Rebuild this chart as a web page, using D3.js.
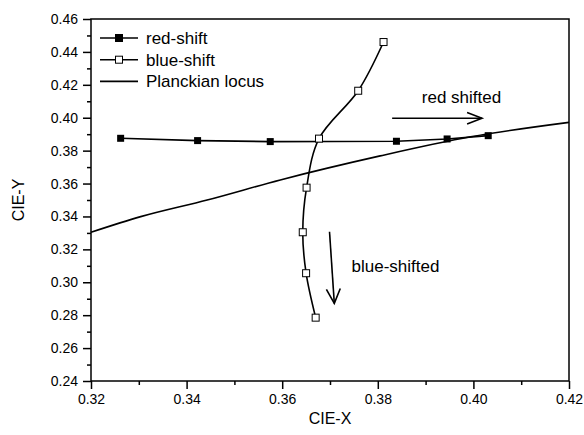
<!DOCTYPE html>
<html>
<head>
<meta charset="utf-8">
<script src="https://cdn.jsdelivr.net/npm/d3@7"></script>
<style>
  body { margin: 0; background: #fff; }
  text { font-family: "Liberation Sans", Arial, sans-serif; fill: #000; }
</style>
</head>
<body>
<div id="chart"></div>
<script>
// data
var redX = [0.3262, 0.3423, 0.3575, 0.3839, 0.3945, 0.4031];
var redY = [0.3875, 0.3861, 0.3855, 0.3857, 0.3871, 0.3891];
var blueX = [0.3812, 0.3759, 0.3677, 0.3651, 0.3643, 0.3650, 0.3670];
var blueY = [0.4460, 0.4164, 0.3873, 0.3575, 0.3304, 0.3055, 0.2785];
var planckX = [0.3200, 0.3304, 0.3443, 0.3596, 0.3805, 0.3994, 0.4200];
var planckY = [0.3304, 0.3399, 0.3500, 0.3622, 0.3768, 0.3884, 0.3972];
var xTicks = [0.32, 0.34, 0.36, 0.38, 0.40, 0.42];
var yTicks = [0.24, 0.26, 0.28, 0.30, 0.32, 0.34, 0.36, 0.38, 0.40, 0.42, 0.44, 0.46];
var legendNames = ["red-shift", "blue-shift", "Planckian locus"];

var width = 584, height = 435;
var margin = {top: 19, right: 15, bottom: 54, left: 91};
var w = width - margin.left - margin.right;
var h = height - margin.top - margin.bottom;

var svg = d3.select("#chart").append("svg")
    .attr("width", width)
    .attr("height", height)
  .append("g")
    .attr("transform", "translate(" + margin.left + "," + margin.top + ")");

var x = d3.scaleLinear().domain([0.32, 0.42]).range([0, w]);
var y = d3.scaleLinear().domain([0.24, 0.46]).range([h, 0]);

function zip(a, b) { return a.map(function(v, i) { return [v, b[i]]; }); }
var red = zip(redX, redY), blue = zip(blueX, blueY), planck = zip(planckX, planckY);

// minor ticks
var xMinor = d3.range(0.33, 0.42, 0.02);
var yMinor = d3.range(0.25, 0.46, 0.02);

var xAxis = d3.axisBottom(x).tickValues(xTicks).tickFormat(d3.format(".2f")).tickSize(8).tickPadding(5);
var yAxis = d3.axisLeft(y).tickValues(yTicks).tickFormat(d3.format(".2f")).tickSize(8).tickPadding(5);

svg.append("g")
    .attr("transform", "translate(0," + h + ")")
    .call(d3.axisBottom(x).tickValues(xMinor).tickSize(4).tickFormat(""))
    .call(function(g){ g.select(".domain").remove(); })
    .selectAll("line").attr("stroke-width", 1.5);
svg.append("g")
    .call(d3.axisLeft(y).tickValues(yMinor).tickSize(4).tickFormat(""))
    .call(function(g){ g.select(".domain").remove(); })
    .selectAll("line").attr("stroke-width", 1.5);

var gx = svg.append("g")
    .attr("transform", "translate(0," + h + ")")
    .style("font-size", "14px")
    .call(xAxis);
gx.select(".domain").remove();
gx.selectAll(".tick line").attr("stroke-width", 1.5);
gx.selectAll(".tick text").attr("font-family", "Liberation Sans, Arial, sans-serif");

var gy = svg.append("g")
    .style("font-size", "14px")
    .call(yAxis);
gy.select(".domain").remove();
gy.selectAll(".tick line").attr("stroke-width", 1.5);
gy.selectAll(".tick text").attr("font-family", "Liberation Sans, Arial, sans-serif");

// frame
svg.append("rect")
    .attr("width", w).attr("height", h)
    .attr("fill", "none").attr("stroke", "#000").attr("stroke-width", 1.5);

// axis titles
svg.append("text")
    .attr("x", w / 2).attr("y", h + 43)
    .attr("text-anchor", "middle")
    .style("font-size", "16px")
    .text("CIE-X");
svg.append("text")
    .attr("transform", "translate(" + (-67) + "," + (h / 2) + ") rotate(-90)")
    .attr("text-anchor", "middle")
    .style("font-size", "16px")
    .text("CIE-Y");

var line = d3.line().x(function(d){ return x(d[0]); }).y(function(d){ return y(d[1]); });

svg.append("path").datum(planck)
    .attr("fill", "none").attr("stroke", "#000").attr("stroke-width", 1.6)
    .attr("d", line.curve(d3.curveMonotoneX));

svg.append("path").datum(red)
    .attr("fill", "none").attr("stroke", "#000").attr("stroke-width", 1.6)
    .attr("d", line.curve(d3.curveLinear));

svg.append("path").datum(blue)
    .attr("fill", "none").attr("stroke", "#000").attr("stroke-width", 1.6)
    .attr("d", line.curve(d3.curveCatmullRom));

var sq = 7;
svg.selectAll(".red").data(red).enter().append("rect")
    .attr("x", function(d){ return x(d[0]) - sq / 2; })
    .attr("y", function(d){ return y(d[1]) - sq / 2; })
    .attr("width", sq).attr("height", sq)
    .attr("fill", "#000");

svg.selectAll(".blue").data(blue).enter().append("rect")
    .attr("x", function(d){ return x(d[0]) - sq / 2; })
    .attr("y", function(d){ return y(d[1]) - sq / 2; })
    .attr("width", sq).attr("height", sq)
    .attr("fill", "#fff").attr("stroke", "#000").attr("stroke-width", 1);

// legend
var legend = svg.append("g").attr("transform", "translate(9,19)");
legendNames.forEach(function(name, i){
    var ly = i * 21.7;
    legend.append("line")
        .attr("x1", 0).attr("x2", 38).attr("y1", ly).attr("y2", ly)
        .attr("stroke", "#000").attr("stroke-width", 1.6);
    if (i < 2) {
        legend.append("rect")
            .attr("x", 19 - sq / 2).attr("y", ly - sq / 2)
            .attr("width", sq).attr("height", sq)
            .attr("fill", i == 0 ? "#000" : "#fff")
            .attr("stroke", "#000").attr("stroke-width", 1);
    }
    legend.append("text")
        .attr("x", 46).attr("y", ly + 6)
        .style("font-size", "17px")
        .text(name);
});

// annotations
function arrow(x1, y1, x2, y2, spread) {
    var g = svg.append("g").attr("stroke", "#000").attr("stroke-width", 1.6).attr("fill", "none");
    var X1 = x(x1), Y1 = y(y1), X2 = x(x2), Y2 = y(y2);
    g.append("line").attr("x1", X1).attr("y1", Y1).attr("x2", X2).attr("y2", Y2);
    var a = Math.atan2(Y2 - Y1, X2 - X1), len = 16;
    g.append("polyline").attr("points", [
        [X2 - len * Math.cos(a - spread), Y2 - len * Math.sin(a - spread)],
        [X2, Y2],
        [X2 - len * Math.cos(a + spread), Y2 - len * Math.sin(a + spread)]
    ].map(function(p){ return p.join(","); }).join(" "));
}

arrow(0.3830, 0.3997, 0.4018, 0.3997, 0.37);
svg.append("text")
    .attr("x", x(0.3892)).attr("y", y(0.4090))
    .style("font-size", "17px")
    .text("red shifted");

arrow(0.3699, 0.3307, 0.3709, 0.2872, 0.45);
svg.append("text")
    .attr("x", x(0.3745)).attr("y", y(0.3064))
    .style("font-size", "17px")
    .text("blue-shifted");
</script>
</body>
</html>
